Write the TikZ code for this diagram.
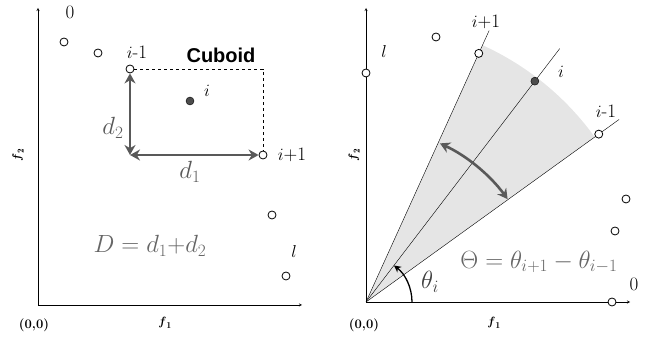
\documentclass[tikz,border=0pt]{standalone}
\usepackage{amsmath}
\usepackage{fontspec}
\newfontfamily\cuboidfont{Liberation Sans}
\usepackage{tikz}
\usetikzlibrary{arrows.meta}

\begin{document}
\begin{tikzpicture}[x=1pt, y=1pt, >=stealth,
    hollow/.style={circle, draw, thick, fill=white, inner sep=0pt, minimum size=8pt},
    fulldot/.style={circle, draw, fill=black!70, inner sep=0pt, minimum size=8pt},
    lbl/.style={font=\fontsize{19}{21}\selectfont},
    dlbl/.style={text=black!65, font=\fontsize{26}{28}\selectfont},
    bigeq/.style={text=black!60, font=\fontsize{25}{28}\selectfont},
    darrow/.style={arrows={Stealth[length=10pt,width=11pt]-Stealth[length=10pt,width=11pt]},
        line width=2.6pt, draw=black!65},
    axlbl/.style={font=\fontsize{13}{14}\selectfont\bfseries}]

    \useasboundingbox (0,0) rectangle (648,342);

    % ==========================================
    % VARIABLE DEFINITIONS
    % ==========================================
    % Ray angles of the right panel (degrees)
    \pgfmathsetmacro{\aUp}{65.6}    % ray through i+1
    \pgfmathsetmacro{\aMid}{52.6}   % ray through i
    \pgfmathsetmacro{\aLow}{35.8}   % ray through i-1
    % Radii
    \pgfmathsetmacro{\Rshade}{282}  % outer edge of the shaded sector
    \pgfmathsetmacro{\Rarc}{175}    % curved double arrow
    \pgfmathsetmacro{\Rtheta}{46}   % small theta_i arc
    % ==========================================

    % ---------- Left panel: cuboid distance ----------
    \coordinate (lo) at (38,37);
    \coordinate (ltop) at (38,334);
    \coordinate (lright) at (302,37);
    \draw[->] (lo) -- (ltop);
    \draw[->] (lo) -- (lright);

    % Solutions (hollow dots)
    \foreach \x/\y [count=\k] in {64/300, 98/289, 272/127}
        \node[hollow] (lp\k) at (\x,\y) {};
    \node[hollow] (lim) at (130,273) {};
    \node[hollow] (lip) at (263,187) {};
    \node[hollow] (ll) at (286,66) {};
    \node[fulldot] (li) at (190,241) {};

    % Cuboid around i
    \coordinate (lc) at (lim |- lip);
    \coordinate (lcorner) at (lip |- lim);
    \draw[dashed] (lim) -- (lcorner) -- (lip);
    \draw[darrow] (lim) -- (lc);
    \draw[darrow] (lc) -- (lip);

    % Labels
    \node[lbl] (lzero) at (70,330) {0};
    \node[lbl] (limlbl) at (137,290) {$i$-1};
    \node[font=\cuboidfont\bfseries\fontsize{20}{22}\selectfont] (lcub) at (221,287) {Cuboid};
    \node[lbl] (lilbl) at (207,251) {$i$};
    \node[dlbl] (ldtwo) at (113,214) {$d_2$};
    \node[dlbl] (ldone) at (190,170) {$d_1$};
    \node[lbl] (liplbl) at (292,187) {$i$+1};
    \node[lbl] (llbl) at (294,90) {$l$};
    \node[bigeq] (leq) at (150,96) {$D = d_1{+}d_2$};
    \node[axlbl] (lorig) at (34,17) {(0,0)};
    \node[axlbl] (lfone) at (165,19) {$\boldsymbol{f}_{\mathbf{1}}$};
    \node[axlbl, rotate=90] (lftwo) at (18,187) {$\boldsymbol{f}_{\mathbf{2}}$};

    % ---------- Right panel: angle between rays ----------
    \coordinate (ro) at (366,40);
    \coordinate (rtop) at (366,334);
    \coordinate (rright) at (630,40);

    % Shaded sector between i+1 and i-1
    \fill[gray!20] (ro) -- ++(\aLow:\Rshade) arc[start angle=\aLow, end angle=\aUp, radius=\Rshade] -- cycle;

    \draw[->] (ro) -- (rtop);
    \draw[->] (ro) -- (rright);

    % Rays from the origin
    \path (ro) ++(\aUp:298) coordinate (rupend);
    \path (ro) ++(\aMid:319) coordinate (rmidend);
    \path (ro) ++(\aLow:312) coordinate (rlowend);
    \draw (ro) -- (rupend);
    \draw (ro) -- (rmidend);
    \draw (ro) -- (rlowend);

    % Solutions on the rays
    \path (ro) ++(\aUp:273) node[hollow] (rip) {};
    \path (ro) ++(\aMid:278) node[fulldot] (ri) {};
    \path (ro) ++(\aLow:287) node[hollow] (rim) {};
    \foreach \x/\y [count=\k] in {436/305, 626/143, 615/111, 612/40}
        \node[hollow] (rp\k) at (\x,\y) {};
    \node[hollow] (rl) at (366,269) {};

    % Curved double arrow and theta_i
    \path (ro) ++(36:\Rarc) coordinate (rarcstart);
    \draw[darrow] (rarcstart) arc[start angle=36, end angle=65, radius=\Rarc];
    \path (ro) ++(0:\Rtheta) coordinate (rthstart);
    \draw[-{Stealth[length=7pt,width=7pt]}, line width=1.3pt] (rthstart) arc[start angle=0, end angle=\aMid, radius=\Rtheta];

    % Labels
    \node[lbl] (rllbl) at (384,290) {$l$};
    \node[lbl] (riplbl) at (486,320) {$i$+1};
    \node[lbl] (rilbl) at (561,270) {$i$};
    \node[lbl] (rimlbl) at (606,231) {$i$-1};
    \node[lbl] (rzero) at (634,58) {0};
    \node[bigeq] (req) at (539,80) {$\Theta = \theta_{i+1} - \theta_{i-1}$};
    \node[dlbl, text=black!75] (rth) at (430,60) {$\theta_i$};
    \node[axlbl] (rorig) at (364,17) {(0,0)};
    \node[axlbl] (rfone) at (494,19) {$\boldsymbol{f}_{\mathbf{1}}$};
    \node[axlbl, rotate=90] (rftwo) at (354,187) {$\boldsymbol{f}_{\mathbf{2}}$};

\end{tikzpicture}
\end{document}
